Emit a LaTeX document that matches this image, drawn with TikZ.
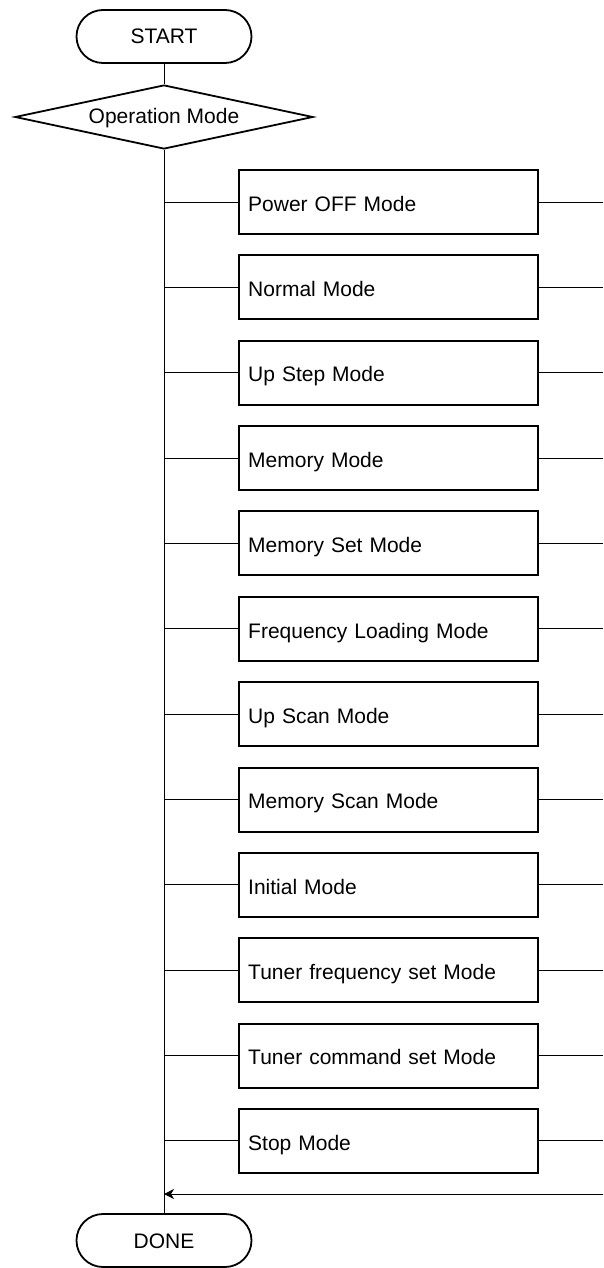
\documentclass[tikz,border=0pt]{standalone}
\usepackage{fontspec}
\setmainfont{Liberation Sans}
\usetikzlibrary{shapes.geometric,arrows.meta}
\begin{document}
\begin{tikzpicture}[x=1pt,y=-1pt,
  font=\fontsize{21}{25}\selectfont,
  term/.style={draw,line width=1.8pt,rectangle,rounded corners=26.5pt,minimum width=175pt,minimum height=53pt,inner sep=0pt,text height=18pt,text depth=3pt},
  decide/.style={draw,line width=1.8pt,diamond,aspect=4.66,minimum width=298pt,minimum height=64pt,inner sep=0pt,text height=17.6pt,text depth=5pt},
  modebox/.style={draw,line width=2pt,rectangle,minimum height=64pt,text width=280pt,inner xsep=9.5pt,inner ysep=0pt,align=left,text height=21.5pt,text depth=3pt},
  conn/.style={line width=1pt}]
\useasboundingbox (0,0) rectangle (603,1268);
\node[term] (start) at (164,36.5) {START};
\node[decide] (op) at (164,117) {Operation Mode};
\node[term] (done) at (164,1240.5) {DONE};
\draw[conn] (start) -- (op);
\draw[conn] (op) -- (done);
\foreach \t [count=\i from 0] in {Power OFF Mode,Normal Mode,Up Step Mode,Memory Mode,Memory Set Mode,Frequency Loading Mode,Up Scan Mode,Memory Scan Mode,Initial Mode,Tuner frequency set Mode,Tuner command set Mode,Stop Mode}{
  \pgfmathsetmacro{\yy}{202+\i*85.36}
  \node[modebox] (m\i) at (388.2,\yy) {\t};
  \coordinate (j\i) at (164,\yy);
  \coordinate (r\i) at (603,\yy);
  \draw[conn] (j\i) -- (m\i.west);
  \draw[conn] (m\i.east) -- (r\i);
}
\coordinate (rback) at (603,1194);
\coordinate (jback) at (164,1194);
\draw[conn,-{Stealth[length=10pt,width=10pt,inset=3pt]}] (rback) -- (jback);
\end{tikzpicture}
\end{document}
